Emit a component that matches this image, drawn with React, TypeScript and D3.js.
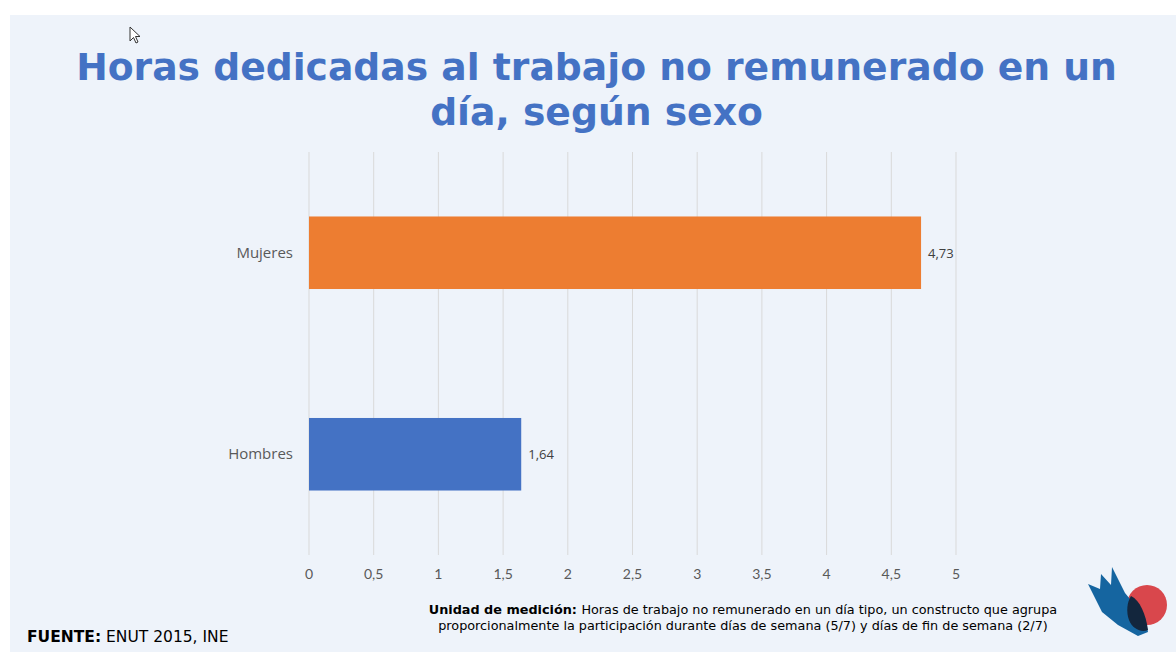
import React from "react";
import * as d3 from "d3";

const categories = ["Mujeres", "Hombres"];
const values = [4.73, 1.64];
const barColors = ["#ED7D31", "#4472C4"];
const ticks = [0, 0.5, 1, 1.5, 2, 2.5, 3, 3.5, 4, 4.5, 5];
const titleLines = ["Horas dedicadas al trabajo no remunerado en un", "día, según sexo"];
const noteLines = [
  "Horas de trabajo no remunerado en un día tipo, un constructo que agrupa",
  "proporcionalmente la participación durante días de semana (5/7) y días de fin de semana (2/7)",
];

const W = 1176;
const H = 652;

export default function App() {
  const x = d3.scaleLinear().domain([0, 5]).range([309, 956]);
  const y = d3.scaleBand().domain(categories).range([152, 555]).paddingInner(0.64).paddingOuter(0.32);
  const fmt = (v: number) => String(v).replace(".", ",");
  const verdana = "Verdana, 'DejaVu Sans', sans-serif";
  const sans = "'Open Sans', sans-serif";
  const narrow = "Lato, sans-serif";

  return (
    <svg width={W} height={H} style={{ position: "absolute", left: 0, top: 0, display: "block" }}>
      <rect x={0} y={0} width={W} height={H} fill="#ffffff" />
      <rect x={10} y={15} width={W - 10} height={H - 15} fill="#EEF3FA" />
      {/* cursor */}
      <path d="M130,27 L130,41 L133.5,37.5 L136,43 L138,42 L135.5,36.5 L140,36.5 Z" fill="#fff" stroke="#333" strokeWidth={1} />
      {/* title */}
      {titleLines.map((t, i) => (
        <text key={i} x={596.5} y={80 + i * 45} textAnchor="middle" fontFamily={verdana} fontWeight="bold" fontSize={37.7} fill="#4472C4">
          {t}
        </text>
      ))}
      {/* grid */}
      {ticks.map((t) => (
        <line key={t} x1={x(t)} x2={x(t)} y1={152} y2={555} stroke="#D9D9D9" strokeWidth={1} />
      ))}
      {ticks.map((t) => (
        <text key={"l" + t} x={x(t)} y={579} textAnchor="middle" fontFamily={narrow} fontSize={14} fill="#595959">
          {fmt(t)}
        </text>
      ))}
      {/* bars */}
      {categories.map((c, i) => (
        <g key={c}>
          <rect x={x(0)} y={y(c)!} width={x(values[i]) - x(0)} height={y.bandwidth()} fill={barColors[i]} />
          <text x={x(0) - 16} y={y(c)! + y.bandwidth() / 2 + 5} textAnchor="end" fontFamily={sans} fontSize={15} fill="#595959">
            {c}
          </text>
          <text x={x(values[i]) + 7} y={y(c)! + y.bandwidth() / 2 + 5} fontFamily={sans} fontSize={13} fill="#404040">
            {fmt(values[i])}
          </text>
        </g>
      ))}
      {/* note */}
      <text x={743} y={614} textAnchor="middle" fontFamily={verdana} fontSize={12.8} fill="#000">
        <tspan fontWeight="bold">Unidad de medición: </tspan>
        {noteLines[0]}
      </text>
      <text x={743} y={630} textAnchor="middle" fontFamily={verdana} fontSize={12.8} fill="#000">
        {noteLines[1]}
      </text>
      <text x={27} y={642} fontFamily={verdana} fontSize={15.5} fill="#000">
        <tspan fontWeight="bold">FUENTE:</tspan> ENUT 2015, INE
      </text>
      {/* logo */}
      <g>
        <circle cx={1147} cy={605} r={20} fill="#D9474C" />
        <path d="M1088,584 L1100,589 L1101,574 L1111,585 L1112,567 L1125,593 L1145,617 L1148,632 L1138,636 L1118,625 L1102,612 Z" fill="#1565A0" />
        <path d="M1131,596 C1140,600 1146,615 1148,630 C1140,633 1132,628 1129,620 C1126,612 1127,602 1131,596 Z" fill="#13263D" />
      </g>
    </svg>
  );
}
